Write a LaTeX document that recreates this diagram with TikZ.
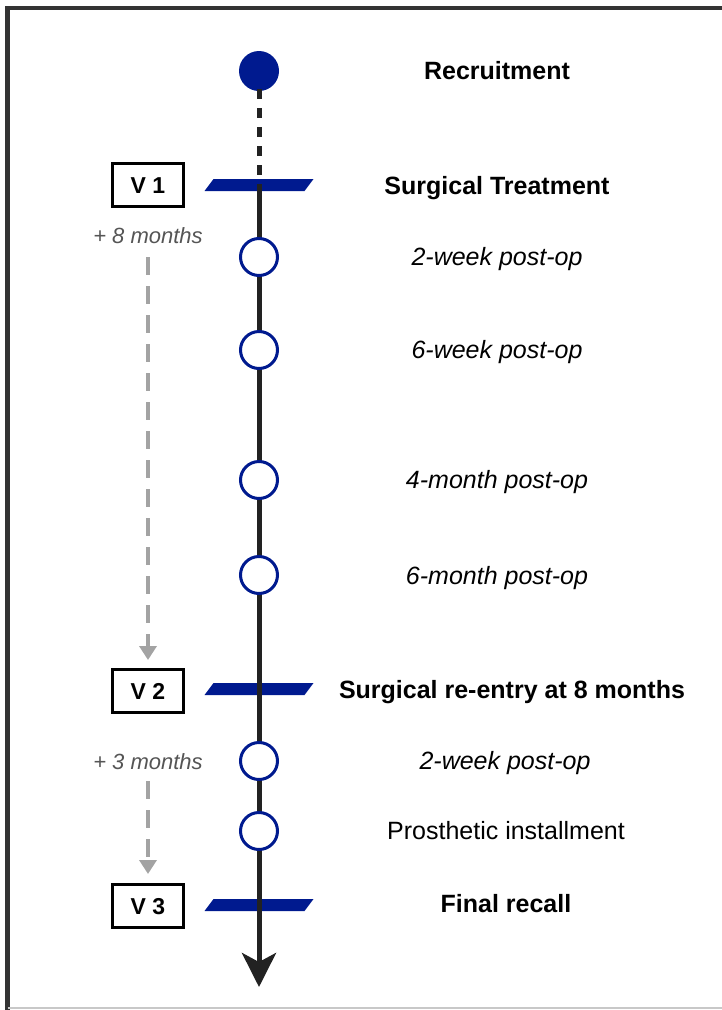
\documentclass[tikz,border=0pt]{standalone}
\usepackage{fontspec}
\setmainfont{Liberation Sans}
\usetikzlibrary{arrows.meta}
\definecolor{navy}{HTML}{001A8F}
\definecolor{axisc}{HTML}{222222}
\definecolor{frame}{HTML}{333333}
\definecolor{grline}{HTML}{A3A3A3}
\definecolor{grtext}{HTML}{555555}
\definecolor{botline}{HTML}{C8C8C8}
\begin{document}
\begin{tikzpicture}[x=1pt,y=-1pt,
  dot/.style={circle,fill=navy,minimum size=40pt,inner sep=0pt},
  ring/.style={circle,draw=navy,fill=white,line width=3pt,minimum size=37pt,inner sep=0pt},
  bar/.style={fill=navy,minimum width=100pt,minimum height=12pt,inner sep=0pt,xslant=0.75,transform shape},
  vbox/.style={draw=black,line width=3pt,minimum width=71pt,minimum height=43pt,inner sep=0pt,text height=16pt,text depth=0pt,font=\fontsize{23}{27}\selectfont\bfseries},
  lbl/.style={text height=18pt,text depth=5pt,inner sep=0pt,yshift=-1.5pt},
  boldlbl/.style={lbl,font=\fontsize{25}{30}\selectfont\bfseries},
  itlbl/.style={lbl,font=\fontsize{25}{30}\selectfont\itshape},
  rglbl/.style={lbl,font=\fontsize{25}{30}\selectfont},
  monthlbl/.style={lbl,text=grtext,font=\fontsize{22}{26}\selectfont\itshape},
  axisdash/.style={draw=axisc,line width=5pt,dash pattern=on 9.5pt off 9.5pt},
  axisline/.style={draw=axisc,line width=5pt,-{Stealth[length=34pt,width=34pt,inset=9pt]}},
  gdash/.style={draw=grline,line width=3.5pt,dash pattern=on 18pt off 11pt,-{Triangle[length=14pt,width=17pt]}}
]
\path[use as bounding box] (0,0) rectangle (722,1010);
% frame
\draw[frame,line width=4.5pt] (7.5,1010) -- (7.5,8) -- (722,8);
\draw[botline,line width=2pt] (7.5,1008) -- (722,1008);

% timeline markers
\node[dot] (rec) at (259,71) {};
\node[bar] (b1) at (259,185) {};
\node[bar] (b2) at (259,689) {};
\node[bar] (b3) at (259,905) {};
\coordinate (tip) at (259,987);

\draw[axisdash] ([yshift=2pt]rec.south) -- (b1.center);
\draw[axisline] (b1.center) -- (tip);

\node[ring] (c1) at (259,257) {};
\node[ring] (c2) at (259,350) {};
\node[ring] (c3) at (259,480) {};
\node[ring] (c4) at (259,575) {};
\node[ring] (c5) at (259,761) {};
\node[ring] (c6) at (259,831) {};

% labels
\node[boldlbl] (lrec) at (497,71) {Recruitment};
\node[boldlbl] (lsur) at (497,186) {Surgical Treatment};
\node[itlbl] (l1) at (497,257) {2-week post-op};
\node[itlbl] (l2) at (497,350) {6-week post-op};
\node[itlbl] (l3) at (497,480) {4-month post-op};
\node[itlbl] (l4) at (497,576) {6-month post-op};
\node[boldlbl] (lre) at (512,690) {Surgical re-entry at 8 months};
\node[itlbl] (l5) at (505,761) {2-week post-op};
\node[rglbl] (l6) at (506,831) {Prosthetic installment};
\node[boldlbl] (lfin) at (506,904) {Final recall};

% visits
\node[vbox] (v1) at (148,185) {V 1};
\node[vbox] (v2) at (148,691) {V 2};
\node[vbox] (v3) at (148,906) {V 3};
\node[monthlbl] (m8) at (148,235) {+ 8 months};
\node[monthlbl] (m3) at (148,761) {+ 3 months};

\draw[gdash,shorten <=9pt,shorten >=8pt] (m8.south) -- (v2.north);
\draw[gdash,shorten <=7pt,shorten >=9pt] (m3.south) -- (v3.north);
\end{tikzpicture}
\end{document}
